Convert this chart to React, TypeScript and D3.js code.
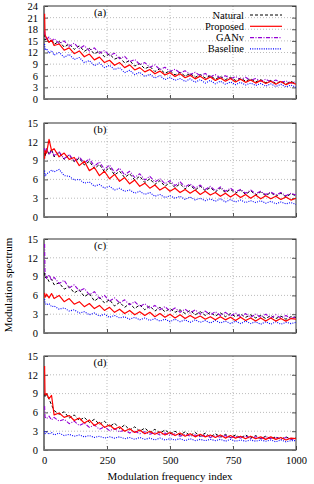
import React, { useEffect, useRef } from 'react';
import * as d3 from 'd3';

// modulation frequency index (sample positions)
const freqIndex = [
  0, 4, 10, 20, 30, 40, 60, 80, 100, 120, 140, 160, 180, 200, 220, 240, 260, 280, 300, 320,
  340, 360, 380, 400, 420, 440, 460, 480, 500, 520, 540, 560, 580, 600, 620, 640, 660, 680, 700, 720,
  740, 760, 780, 800, 820, 840, 860, 880, 900, 920, 940, 960, 980, 1000,
];

// panel (a)
const naturalA = [16.8, 15.2, 15.9, 14.6, 15.4, 14.1, 14.9, 13.4, 14.2, 12.8, 13.7, 12.3, 13.1, 11.6, 12.4, 10.9, 11.6, 10.3, 10.8, 9.3, 9.9, 8.5, 9.1, 7.8, 8.4, 7.1, 7.8, 6.6, 7.3, 6.2, 6.9, 5.9, 6.6, 5.6, 6.3, 5.4, 6.0, 5.1, 5.8, 5.0, 5.6, 4.8, 5.4, 4.6, 5.2, 4.4, 5.0, 4.2, 4.8, 4.0, 4.6, 3.9, 4.5, 4.0];
const proposedA = [22.0, 16.5, 15.8, 14.6, 15.2, 13.8, 14.2, 12.6, 13.2, 11.7, 12.4, 10.9, 11.6, 10.1, 10.8, 9.4, 10.0, 8.7, 9.4, 8.1, 8.8, 7.5, 8.1, 7.0, 7.6, 6.5, 7.2, 6.2, 6.8, 5.8, 6.5, 5.5, 6.1, 5.2, 5.9, 5.0, 5.7, 4.8, 5.4, 4.6, 5.3, 4.4, 5.1, 4.3, 4.9, 4.1, 4.8, 4.0, 4.6, 3.8, 4.5, 3.7, 4.3, 3.8];
const ganvA = [17.5, 16.2, 15.4, 16.0, 14.9, 15.6, 14.3, 15.0, 13.6, 14.4, 13.0, 13.8, 12.4, 13.2, 11.8, 12.5, 11.2, 11.8, 10.4, 11.0, 9.6, 10.2, 8.9, 9.4, 8.2, 8.8, 7.6, 8.2, 7.1, 7.7, 6.7, 7.3, 6.3, 6.9, 6.0, 6.6, 5.7, 6.3, 5.4, 6.0, 5.2, 5.8, 5.0, 5.6, 4.8, 5.3, 4.6, 5.1, 4.4, 4.9, 4.2, 4.7, 4.1, 4.5];
const baselineA = [14.2, 12.6, 13.0, 11.8, 12.5, 11.3, 12.0, 10.8, 11.5, 10.2, 10.7, 9.4, 9.9, 8.6, 9.3, 8.1, 8.7, 7.6, 8.1, 6.8, 7.4, 6.3, 6.9, 5.8, 6.4, 5.4, 6.0, 5.0, 5.6, 4.8, 5.3, 4.5, 5.2, 4.3, 5.0, 4.1, 4.8, 3.9, 4.6, 3.8, 4.4, 3.7, 4.3, 3.6, 4.1, 3.5, 4.0, 3.3, 3.9, 3.2, 3.8, 3.1, 3.6, 3.0];

// panel (b)
const naturalB = [10.2, 9.6, 10.9, 10.0, 10.8, 9.6, 10.3, 9.2, 9.9, 8.8, 9.4, 8.3, 8.9, 7.7, 8.4, 7.2, 7.9, 6.7, 7.3, 6.3, 6.9, 5.9, 6.5, 5.5, 6.1, 5.2, 5.8, 4.9, 5.5, 4.7, 5.3, 4.5, 5.1, 4.3, 4.9, 4.2, 4.7, 4.0, 4.6, 3.9, 4.4, 3.8, 4.3, 3.6, 4.2, 3.5, 4.0, 3.4, 3.9, 3.3, 3.8, 3.2, 3.7, 3.4];
const proposedB = [9.3, 10.6, 10.2, 12.4, 10.6, 10.9, 9.6, 10.2, 9.2, 9.5, 8.2, 8.9, 7.4, 7.9, 6.6, 7.3, 6.1, 6.8, 5.7, 6.3, 5.3, 5.9, 4.9, 5.4, 4.6, 5.1, 4.3, 4.8, 4.1, 4.6, 3.9, 4.4, 3.8, 4.3, 3.6, 4.1, 3.5, 3.9, 3.3, 3.8, 3.2, 3.7, 3.1, 3.6, 3.0, 3.5, 2.9, 3.4, 2.9, 3.3, 2.8, 3.2, 2.7, 3.0];
const ganvB = [11.0, 10.2, 10.8, 9.9, 10.6, 9.8, 10.4, 9.3, 10.0, 8.9, 9.6, 8.6, 9.3, 8.1, 8.8, 7.6, 8.3, 7.1, 7.8, 6.7, 7.3, 6.3, 6.9, 5.9, 6.5, 5.6, 6.1, 5.3, 5.8, 5.0, 5.6, 4.8, 5.3, 4.6, 5.1, 4.4, 4.9, 4.2, 4.8, 4.1, 4.6, 4.0, 4.4, 3.8, 4.3, 3.7, 4.1, 3.6, 4.0, 3.5, 3.9, 3.4, 3.8, 3.5];
const baselineB = [7.4, 6.5, 6.9, 7.1, 7.5, 7.2, 7.6, 6.6, 6.5, 5.9, 6.0, 5.4, 5.6, 4.9, 5.2, 4.6, 4.9, 4.3, 4.6, 4.1, 4.3, 3.8, 4.1, 3.6, 3.9, 3.3, 3.6, 3.1, 3.4, 3.0, 3.3, 2.8, 3.2, 2.7, 3.0, 2.6, 2.9, 2.5, 2.9, 2.4, 2.8, 2.4, 2.7, 2.3, 2.6, 2.3, 2.6, 2.2, 2.5, 2.1, 2.4, 2.1, 2.3, 2.0];

// panel (c)
const naturalC = [9.6, 8.8, 9.0, 8.2, 8.6, 7.7, 8.0, 7.0, 7.4, 6.4, 6.9, 5.8, 6.3, 5.1, 5.7, 4.8, 5.3, 4.3, 4.9, 4.1, 4.7, 3.9, 4.5, 3.7, 4.3, 3.5, 4.1, 3.4, 3.9, 3.3, 3.7, 3.1, 3.6, 2.9, 3.4, 2.8, 3.3, 2.7, 3.2, 2.6, 3.1, 2.6, 3.0, 2.5, 2.9, 2.4, 2.8, 2.3, 2.8, 2.3, 2.7, 2.2, 2.6, 2.5];
const proposedC = [6.4, 5.7, 6.2, 5.6, 6.3, 5.5, 6.0, 5.0, 5.5, 4.6, 5.0, 4.2, 4.7, 3.9, 4.4, 3.6, 4.1, 3.3, 3.8, 3.1, 3.6, 2.9, 3.4, 2.8, 3.3, 2.6, 3.1, 2.5, 3.0, 2.4, 2.9, 2.3, 2.8, 2.3, 2.7, 2.2, 2.6, 2.1, 2.6, 2.1, 2.5, 2.0, 2.5, 2.0, 2.4, 1.9, 2.4, 1.9, 2.4, 1.9, 2.3, 1.9, 2.3, 2.2];
const ganvC = [14.2, 9.8, 8.7, 9.3, 8.4, 8.9, 7.9, 8.4, 7.2, 7.7, 6.7, 7.1, 6.1, 6.6, 5.5, 6.0, 5.1, 5.6, 4.8, 5.3, 4.5, 5.0, 4.2, 4.7, 3.9, 4.4, 3.7, 4.2, 3.5, 4.0, 3.3, 3.8, 3.2, 3.7, 3.0, 3.5, 2.9, 3.4, 2.8, 3.3, 2.7, 3.2, 2.6, 3.1, 2.5, 3.0, 2.5, 3.0, 2.4, 2.9, 2.4, 2.8, 2.3, 2.6];
const baselineC = [5.4, 4.8, 4.5, 4.7, 4.2, 4.3, 3.8, 4.0, 3.5, 3.7, 3.2, 3.4, 2.9, 3.2, 2.7, 3.0, 2.5, 2.8, 2.4, 2.6, 2.2, 2.5, 2.1, 2.4, 2.0, 2.3, 1.9, 2.2, 1.8, 2.2, 1.8, 2.1, 1.7, 2.1, 1.7, 2.0, 1.6, 2.0, 1.6, 1.9, 1.5, 1.9, 1.5, 1.9, 1.5, 1.8, 1.4, 1.8, 1.4, 1.8, 1.4, 1.7, 1.5, 1.7];

// panel (d)
const naturalD = [9.0, 8.4, 8.9, 8.1, 7.2, 6.3, 5.7, 6.1, 5.1, 5.6, 4.7, 5.2, 4.4, 4.9, 4.1, 4.6, 3.7, 4.3, 3.4, 4.0, 3.2, 3.7, 3.0, 3.5, 2.8, 3.3, 2.7, 3.2, 2.6, 3.0, 2.4, 2.9, 2.3, 2.8, 2.2, 2.7, 2.1, 2.6, 2.1, 2.5, 2.0, 2.4, 1.9, 2.4, 1.9, 2.3, 1.8, 2.2, 1.8, 2.1, 1.7, 2.1, 1.7, 1.9];
const proposedD = [13.4, 8.8, 9.0, 8.2, 8.7, 5.6, 5.9, 5.2, 5.5, 4.7, 5.1, 4.3, 4.8, 3.9, 4.4, 3.6, 4.0, 3.3, 3.7, 3.0, 3.4, 2.8, 3.2, 2.6, 3.0, 2.5, 2.9, 2.4, 2.8, 2.3, 2.7, 2.2, 2.6, 2.1, 2.5, 2.1, 2.4, 2.0, 2.4, 1.9, 2.3, 1.9, 2.2, 1.8, 2.2, 1.8, 2.1, 1.7, 2.1, 1.7, 2.0, 1.6, 1.9, 1.8];
const ganvD = [7.0, 5.3, 5.0, 5.4, 4.8, 5.2, 4.6, 4.9, 4.2, 4.6, 3.9, 4.3, 3.6, 4.0, 3.3, 3.7, 3.1, 3.4, 2.9, 3.2, 2.7, 3.0, 2.6, 2.9, 2.5, 2.8, 2.4, 2.7, 2.3, 2.6, 2.2, 2.5, 2.2, 2.4, 2.1, 2.4, 2.0, 2.3, 2.0, 2.3, 1.9, 2.2, 1.9, 2.2, 1.8, 2.1, 1.8, 2.1, 1.8, 2.0, 1.7, 2.0, 1.7, 1.9];
const baselineD = [3.0, 2.6, 2.9, 2.5, 2.8, 2.4, 2.7, 2.3, 2.5, 2.2, 2.4, 2.1, 2.3, 2.0, 2.2, 1.9, 2.1, 1.9, 2.1, 1.8, 2.0, 1.7, 2.0, 1.7, 1.9, 1.6, 1.9, 1.6, 1.8, 1.6, 1.8, 1.5, 1.8, 1.5, 1.7, 1.5, 1.7, 1.5, 1.7, 1.4, 1.7, 1.4, 1.6, 1.4, 1.6, 1.4, 1.6, 1.4, 1.6, 1.3, 1.6, 1.3, 1.5, 1.5];

const seriesNames = ['Natural', 'Proposed', 'GANv', 'Baseline'];
const panelLabels = ['(a)', '(b)', '(c)', '(d)'];
const xTicks = [0, 250, 500, 750, 1000];
const yTicksA = [0, 3, 6, 9, 12, 15, 18, 21, 24];
const yTicksB = [0, 3, 6, 9, 12, 15];

const lineStyle = {
  Natural: { color: '#000000', dash: '3,2', width: 1 },
  Proposed: { color: '#ff0000', dash: null, width: 1.2 },
  GANv: { color: '#9400d3', dash: '4,1.5,1,1.5', width: 1.1 },
  Baseline: { color: '#0000ff', dash: '1,1.3', width: 1.1 },
};

const font = '"Liberation Serif", "Times New Roman", serif';

const App = () => {
  const ref = useRef<SVGSVGElement>(null);

  useEffect(() => {
    const svg = d3.select(ref.current);
    svg.selectAll('*').remove();

    const left = 44,
      right = 296;
    const x = d3.scaleLinear().domain([0, 1000]).range([left, right]);

    const panels = [
      { top: 6, bottom: 99, ticks: yTicksA, data: { Natural: naturalA, Proposed: proposedA, GANv: ganvA, Baseline: baselineA } },
      { top: 123, bottom: 217, ticks: yTicksB, data: { Natural: naturalB, Proposed: proposedB, GANv: ganvB, Baseline: baselineB } },
      { top: 239, bottom: 333, ticks: yTicksB, data: { Natural: naturalC, Proposed: proposedC, GANv: ganvC, Baseline: baselineC } },
      { top: 356, bottom: 450, ticks: yTicksB, data: { Natural: naturalD, Proposed: proposedD, GANv: ganvD, Baseline: baselineD } },
    ];

    const drawOrder = ['Natural', 'Baseline', 'GANv', 'Proposed'];

    panels.forEach((p, i) => {
      const ymax = p.ticks[p.ticks.length - 1];
      const y = d3.scaleLinear().domain([0, ymax]).range([p.bottom, p.top]);
      const g = svg.append('g');

      // dotted grid
      g.selectAll('.hgrid')
        .data(p.ticks.slice(1, -1))
        .enter()
        .append('line')
        .attr('x1', left)
        .attr('x2', right)
        .attr('y1', (d) => y(d))
        .attr('y2', (d) => y(d))
        .attr('stroke', '#aaaaaa')
        .attr('stroke-width', 0.8)
        .attr('stroke-dasharray', '1,2');
      g.selectAll('.vgrid')
        .data(xTicks.slice(1, -1))
        .enter()
        .append('line')
        .attr('x1', (d) => x(d))
        .attr('x2', (d) => x(d))
        .attr('y1', p.top)
        .attr('y2', p.bottom)
        .attr('stroke', '#aaaaaa')
        .attr('stroke-width', 0.8)
        .attr('stroke-dasharray', '1,2');

      // y axis
      const ya = g
        .append('g')
        .attr('transform', 'translate(' + left + ',0)')
        .call(d3.axisLeft(y).tickValues(p.ticks).tickSize(-4).tickPadding(6));
      ya.select('.domain').remove();
      ya.selectAll('text').attr('font-family', font).attr('font-size', 10.5).attr('fill', '#000');
      ya.selectAll('line').attr('stroke', '#555');

      const yr = g
        .append('g')
        .attr('transform', 'translate(' + right + ',0)')
        .call(d3.axisRight(y).tickValues(p.ticks).tickSize(-4).tickFormat(() => ''));
      yr.select('.domain').remove();
      yr.selectAll('line').attr('stroke', '#555');

      // x axis
      const xa = g
        .append('g')
        .attr('transform', 'translate(0,' + p.bottom + ')')
        .call(
          d3
            .axisBottom(x)
            .tickValues(xTicks)
            .tickSize(-4)
            .tickPadding(7)
            .tickFormat((d) => (i === 3 ? String(d) : ''))
        );
      xa.select('.domain').remove();
      xa.selectAll('text').attr('font-family', font).attr('font-size', 10.5).attr('fill', '#000');
      xa.selectAll('line').attr('stroke', '#555');

      // frame (under the curves so the spikes at index 0 stay visible)
      g.append('rect')
        .attr('x', left)
        .attr('y', p.top)
        .attr('width', right - left)
        .attr('height', p.bottom - p.top)
        .attr('fill', 'none')
        .attr('stroke', '#333')
        .attr('stroke-width', 1);
      g.append('path')
        .attr('d', 'M' + left + ',' + p.top + 'V' + p.bottom + 'H' + right)
        .attr('fill', 'none')
        .attr('stroke', '#777')
        .attr('stroke-width', 1.6);

      // clip
      const clipId = 'clip' + i;
      svg
        .append('clipPath')
        .attr('id', clipId)
        .append('rect')
        .attr('x', left - 1)
        .attr('y', p.top)
        .attr('width', right - left + 1)
        .attr('height', p.bottom - p.top);

      const line = d3
        .line<number>()
        .x((d, k) => x(freqIndex[k]) + (k === 0 ? 0.6 : 0))
        .y((d) => y(d));

      drawOrder.forEach((name) => {
        const st = lineStyle[name];
        g.append('path')
          .datum(p.data[name])
          .attr('clip-path', 'url(#' + clipId + ')')
          .attr('fill', 'none')
          .attr('stroke', st.color)
          .attr('stroke-width', st.width)
          .attr('stroke-dasharray', st.dash)
          .attr('stroke-linejoin', 'round')
          .attr('d', line);
      });

      // panel label
      g.append('text')
        .attr('x', 100)
        .attr('y', p.top + 9.5)
        .attr('text-anchor', 'middle')
        .attr('font-family', font)
        .attr('font-size', 11)
        .text(panelLabels[i]);
    });

    // legend in panel (a)
    const lg = svg.append('g');
    seriesNames.forEach((name, k) => {
      const cy = 15 + k * 11.3;
      const st = lineStyle[name];
      lg.append('text')
        .attr('x', 244)
        .attr('y', cy + 3.5)
        .attr('text-anchor', 'end')
        .attr('font-family', font)
        .attr('font-size', 10.5)
        .text(name);
      lg.append('line')
        .attr('x1', 250)
        .attr('x2', 282)
        .attr('y1', cy)
        .attr('y2', cy)
        .attr('stroke', st.color)
        .attr('stroke-width', st.width)
        .attr('stroke-dasharray', st.dash);
    });

    // axis titles
    svg
      .append('text')
      .attr('x', 170)
      .attr('y', 480)
      .attr('text-anchor', 'middle')
      .attr('font-family', font)
      .attr('font-size', 11)
      .text('Modulation frequency index');
    svg
      .append('text')
      .attr('transform', 'translate(12,285) rotate(-90)')
      .attr('text-anchor', 'middle')
      .attr('font-family', font)
      .attr('font-size', 11)
      .text('Modulation spectrum');
  }, []);

  return (
    <svg
      ref={ref}
      width={314}
      height={484}
      style={{ position: 'absolute', left: 0, top: 0, background: '#fff' }}
    />
  );
};

export default App;
